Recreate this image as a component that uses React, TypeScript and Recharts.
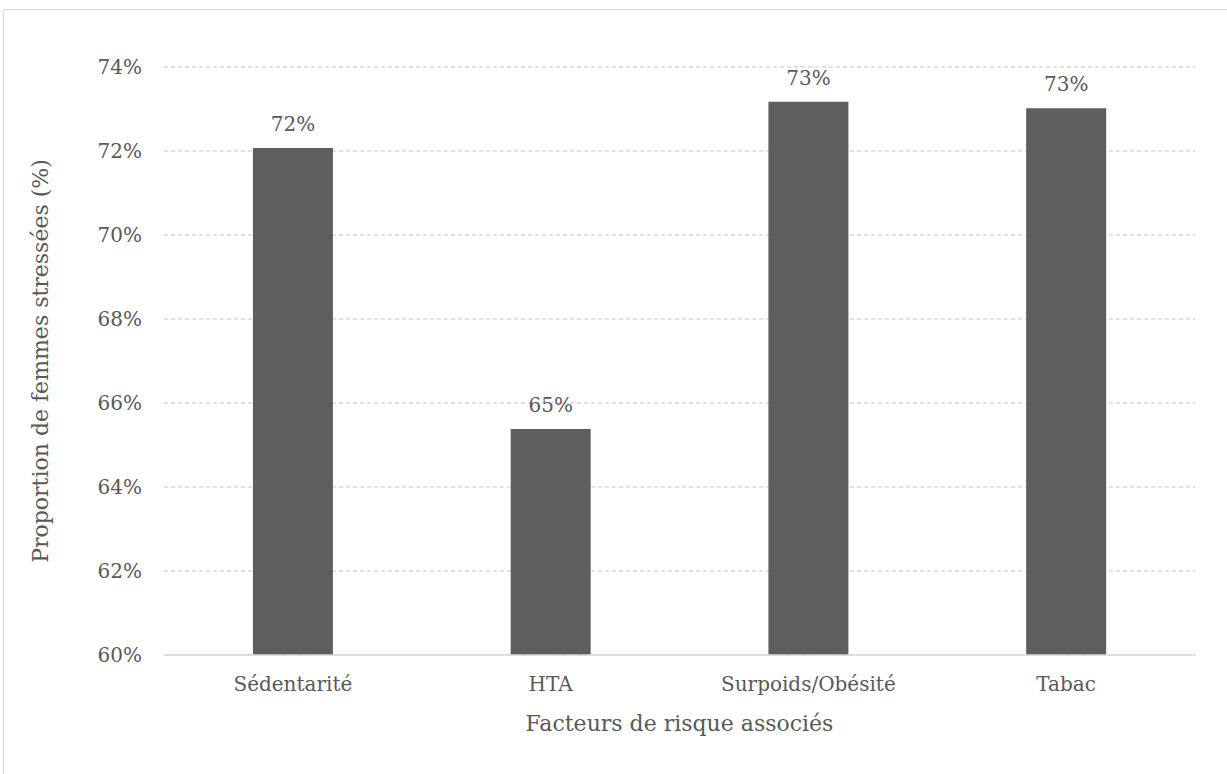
import React from "react";
import {
  BarChart,
  Bar,
  XAxis,
  YAxis,
  CartesianGrid,
  LabelList,
} from "recharts";

// Risk factors and the share of stressed women for each (%)
const categories = ["Sédentarité", "HTA", "Surpoids/Obésité", "Tabac"];
const proportions = [72.07, 65.38, 73.17, 73.02];
const yTicks = [60, 62, 64, 66, 68, 70, 72, 74];

const data = categories.map((name, i) => ({ name, value: proportions[i] }));

const FONT = "'DejaVu Serif', 'Liberation Serif', serif";
const TEXT = "#595959";

export default function App() {
  return (
    <div
      style={{
        position: "absolute",
        left: 0,
        top: 0,
        width: 1227,
        height: 774,
        overflow: "hidden",
        background: "#ffffff",
        fontFamily: FONT,
      }}
    >
      <div
        style={{
          position: "absolute",
          left: 3,
          top: 9,
          width: 1400,
          height: 900,
          border: "1px solid #d9d9d9",
        }}
      />
      <div style={{ position: "absolute", left: 0, top: 0 }}>
        <BarChart
          width={1227}
          height={774}
          data={data}
          margin={{ top: 67, right: 32, bottom: 39, left: 0 }}
          barCategoryGap="34.5%"
        >
          <CartesianGrid
            vertical={false}
            stroke="#c4c4c4"
            strokeDasharray="4 3"
          />
          <XAxis
            dataKey="name"
            height={80}
            axisLine={{ stroke: "#d9d9d9", strokeWidth: 1.5 }}
            tickLine={false}
            tickSize={0}
            tickMargin={22}
            tick={{ fill: TEXT, fontSize: 20, fontFamily: FONT }}
            label={{
              value: "Facteurs de risque associés",
              position: "insideBottom",
              offset: 4,
              fill: TEXT,
              fontSize: 22,
              fontFamily: FONT,
            }}
          />
          <YAxis
            width={164}
            domain={[60, 74]}
            ticks={yTicks}
            allowDataOverflow
            axisLine={false}
            tickLine={false}
            tickSize={0}
            tickMargin={22}
            tickFormatter={(v: number) => `${v}%`}
            tick={{ fill: TEXT, fontSize: 20, fontFamily: FONT }}
            label={{
              value: "Proportion de femmes stressées (%)",
              angle: -90,
              position: "insideLeft",
              offset: 40,
              fill: TEXT,
              fontSize: 22,
              fontFamily: FONT,
              style: { textAnchor: "middle" },
            }}
          />
          <Bar dataKey="value" fill="#5e5e5e" isAnimationActive={false}>
            <LabelList
              dataKey="value"
              position="top"
              offset={17}
              formatter={(v: number) => `${Math.round(v)}%`}
              fill={TEXT}
              fontSize={20}
              fontFamily={FONT}
            />
          </Bar>
        </BarChart>
      </div>
    </div>
  );
}
